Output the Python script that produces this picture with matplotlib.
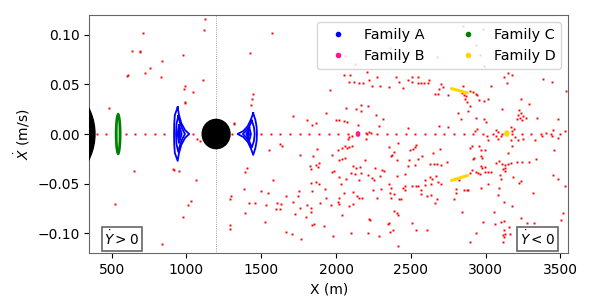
import matplotlib
matplotlib.use("Agg")
import matplotlib.pyplot as plt
from matplotlib.patches import Ellipse
from matplotlib.lines import Line2D

# ---------------- data ----------------
# red (chaotic) section points
red_x = [1126, 1119, 709, 635, 691, 687, 979, 838, 753, 720, 606, 604, 827, 1110, 992, 983, 1041, 992, 987, 479, 1319, 1315,
         1569, 1422, 1444, 1440, 1433, 2051, 2091, 2205, 2271, 2403, 2086, 2117, 2155, 2180, 2222, 2238, 2294, 2354, 2423, 2448,
         1962, 2167, 2064, 2131, 2167, 2216, 1930, 1710, 2267, 1806, 1997, 2019, 2053, 2075, 1863, 1841, 2149, 2316, 2285, 2220,
         2234, 2200,
         3147, 3178, 3125, 3381, 3441, 3140, 3035, 2509, 2549, 2478, 2545, 2567, 2589, 2612, 2505, 2623, 2705, 2712, 2687, 2661,
         2679, 2750, 2850, 2844, 2857, 2870, 2897, 2913, 2937, 2941, 2861, 2879, 2955, 2991, 3018, 2895, 2884, 3111, 3234, 3290,
         2817, 2835, 2933, 2991, 3222, 3236, 3218, 3252, 3229, 3212, 3245, 3267, 3341, 3485, 3539, 2944, 2928, 3071, 3084, 3169,
         3191, 3178, 2482, 3452, 3407, 3530, 2687, 2750, 3006,
         2850, 2933, 2962, 2672, 2991, 2126, 2060, 2360, 2345, 2980,
         649, 907, 914, 950, 1061, 524, 1028, 1008, 974, 838, 1387, 1297, 1291, 1289, 1289, 1072, 1088,
         1552, 1623, 1636, 1759, 1875, 1844, 1971, 2011, 2038, 2060, 2073, 2087, 2109, 2082, 2089, 2109, 2198, 2022, 2038, 2060,
         2194, 2354, 2388, 2365, 2376, 2410, 2414, 1402, 1391, 1826, 1835, 1864, 1884, 1879, 1971, 1984, 2111, 2131, 2160, 2100,
         2127, 2167, 2020, 2064, 2151, 2216, 2258, 2238, 2256, 2294, 2310, 2319, 2408, 1578, 1833, 1864, 1886, 1926, 1841, 2033,
         1752, 1748, 1663, 1498, 1543, 1418, 1458, 1529, 1605, 1630, 1623, 1596, 1710, 1759, 1803, 1830, 1893, 1935, 1966, 2015,
         2022, 2051, 2020, 2086, 2116, 2113, 2138, 2156, 2172, 2249, 2276, 2300, 2354, 2365, 2361, 2365, 2388, 2421, 2432, 2448,
         1391, 1725, 1797, 1835, 1525, 1837, 1850, 1919, 2040, 2220, 2227, 2385, 2408, 2412, 2345, 2354, 2379, 2361, 2214, 1663,
         1703, 1766, 1977, 2098, 2285, 2416,
         3011, 3018, 3071, 3084, 3106, 3196, 3218, 3252, 3173, 3329, 3374, 3441, 3486, 2538, 2527, 2493, 2516, 2576, 2545, 2491,
         2650, 2694, 2741, 2630, 2652, 2672, 2701, 2478, 2527, 2460, 2895, 2906, 2955, 2968, 2995, 2924, 2917, 2968, 2977, 3151,
         3178, 3073, 3089, 3111, 3129, 3151, 3173, 3118, 3133, 3209, 3244, 3289, 3334, 3456, 2968, 2977, 2995, 2933, 2946, 2962,
         2997, 3013, 3035, 2895, 2906, 2821, 3098, 3106, 3129, 3186, 3222, 3236, 3452, 3481, 3530, 3316, 2460, 2505, 2538, 2549,
         2594, 2627, 2645, 2667, 2683, 2699, 2634, 2598, 2571, 2567, 2605, 2634, 2460, 2674, 2661, 2790, 2799, 2799, 2857, 2873,
         2884, 2968, 3013, 3089, 3080, 3120, 3178, 3058, 2839, 2505, 2605, 2538, 2986, 3062, 3106, 3122, 3155, 3124, 3129, 3118,
         3122, 2939, 2895, 3115, 3236, 3274, 3325, 3503, 3521, 3474, 3164]
red_y = [0.1153, 0.1043, 0.1013, 0.0838, 0.0835, 0.0825, 0.0798, 0.0731, 0.0665, 0.0618, 0.0598, 0.0587, 0.0577, 0.0547, 0.0487, 0.0457, 0.0423, 0.0320, 0.0310, 0.0262, 0.0112, 0.0105,
         0.1019, 0.0815, 0.0403, 0.0356, 0.0293, 0.0591, 0.0597, 0.0624, 0.0577, 0.0577, 0.0527, 0.0524, 0.0514, 0.0517, 0.0541, 0.0480, 0.0484, 0.0470, 0.0527, 0.0460,
         0.0440, 0.0293, 0.0266, 0.0256, 0.0236, 0.0280, 0.0216, 0.0183, 0.0196, 0.0142, 0.0139, 0.0136, 0.0132, 0.0122, 0.0106, 0.0092, 0.0092, 0.0146, 0.0079, 0.0021,
         0.0011, 0.0015,
         0.0618, 0.0598, 0.0571, 0.0557, 0.0524, 0.0514, 0.0484, 0.0574, 0.0577, 0.0541, 0.0517, 0.0514, 0.0511, 0.0511, 0.0520, 0.0544, 0.0507, 0.0474, 0.0450, 0.0407,
         0.0400, 0.0390, 0.0487, 0.0410, 0.0397, 0.0383, 0.0434, 0.0423, 0.0407, 0.0390, 0.0350, 0.0323, 0.0340, 0.0330, 0.0350, 0.0283, 0.0229, 0.0249, 0.0350, 0.0303,
         0.0216, 0.0149, 0.0162, 0.0149, 0.0240, 0.0216, 0.0196, 0.0183, 0.0163, 0.0149, 0.0139, 0.0162, 0.0162, 0.0156, 0.0430, 0.0049, 0.0029, 0.0039, 0.0022, 0.0069,
         0.0049, 0.0032, 0.0062, 0.0039, 0.0015, 0.0029, 0.0082, 0.0072, 0.0122,
         0.1086, 0.0892, 0.0798, 0.0775, 0.0684, 0.0708, 0.0785, 0.0869, 0.0986, 0.1060,
         -0.0370, -0.0353, -0.0366, -0.0373, -0.0460, -0.0708, -0.0671, -0.0718, -0.0838, -0.1110, -0.0557, -0.0621, -0.0658, -0.0915, -0.0952, -0.0055, -0.0072,
         -0.0165, -0.0105, -0.0125, -0.0209, -0.0149, -0.0219, -0.0209, -0.0165, -0.0142, -0.0125, -0.0145, -0.0135, -0.0125, -0.0048, -0.0032, -0.0015, -0.0048, -0.0266, -0.0253, -0.0239,
         -0.0266, -0.0132, -0.0179, -0.0219, -0.0212, -0.0262, -0.0095, -0.0343, -0.0383, -0.0326, -0.0356, -0.0309, -0.0293, -0.0330, -0.0383, -0.0373, -0.0326, -0.0343, -0.0333, -0.0393,
         -0.0400, -0.0393, -0.0437, -0.0450, -0.0460, -0.0410, -0.0343, -0.0447, -0.0460, -0.0427, -0.0360, -0.0376, -0.0420, -0.0467, -0.0490, -0.0480, -0.0500, -0.0554, -0.0574, -0.0503,
         -0.0574, -0.0624, -0.0628, -0.0574, -0.0591, -0.0691, -0.0694, -0.0711, -0.0694, -0.0701, -0.0751, -0.0758, -0.0681, -0.0741, -0.0711, -0.0745, -0.0691, -0.0648, -0.0711, -0.0684,
         -0.0701, -0.0591, -0.0641, -0.0728, -0.0587, -0.0701, -0.0627, -0.0641, -0.0641, -0.0567, -0.0641, -0.0554, -0.0507, -0.0540, -0.0591, -0.0644, -0.0601, -0.0658, -0.0651, -0.0540,
         -0.0795, -0.0802, -0.0832, -0.0785, -0.0885, -0.0915, -0.0902, -0.0922, -0.0812, -0.0852, -0.0865, -0.0775, -0.0795, -0.0818, -0.0909, -0.0895, -0.0966, -0.0989, -0.0999, -0.0989,
         -0.1003, -0.1053, -0.1023, -0.0999, -0.1030, -0.1130,
         -0.0025, -0.0065, -0.0025, -0.0052, -0.0025, -0.0032, -0.0058, -0.0048, -0.0058, -0.0058, -0.0015, -0.0025, -0.0038, -0.0115, -0.0132, -0.0159, -0.0155, -0.0222, -0.0249, -0.0266,
         -0.0192, -0.0155, -0.0283, -0.0306, -0.0306, -0.0299, -0.0316, -0.0323, -0.0316, -0.0400, -0.0142, -0.0125, -0.0125, -0.0159, -0.0165, -0.0239, -0.0249, -0.0222, -0.0239, -0.0192,
         -0.0125, -0.0289, -0.0273, -0.0306, -0.0316, -0.0299, -0.0293, -0.0350, -0.0343, -0.0286, -0.0286, -0.0283, -0.0249, -0.0159, -0.0326, -0.0340, -0.0333, -0.0383, -0.0393, -0.0406,
         -0.0383, -0.0383, -0.0383, -0.0393, -0.0360, -0.0460, -0.0410, -0.0450, -0.0376, -0.0433, -0.0494, -0.0477, -0.0417, -0.0450, -0.0527, -0.0594, -0.0524, -0.0527, -0.0524, -0.0527,
         -0.0467, -0.0433, -0.0457, -0.0423, -0.0484, -0.0500, -0.0500, -0.0517, -0.0560, -0.0607, -0.0627, -0.0617, -0.0567, -0.0658, -0.0694, -0.0651, -0.0550, -0.0591, -0.0567, -0.0567,
         -0.0567, -0.0540, -0.0500, -0.0540, -0.0617, -0.0684, -0.0728, -0.0785, -0.0785, -0.0895, -0.0962, -0.0969, -0.0885, -0.0902, -0.0885, -0.0875, -0.0935, -0.0969, -0.1003, -0.1019,
         -0.1036, -0.0992, -0.1086, -0.1086, -0.0842, -0.0895, -0.0895, -0.0862, -0.0795, -0.1069, -0.1003]

# initial conditions on the X axis (Xdot = 0) that are chaotic
axis_x = [400, 465, 594, 658, 723, 788, 852, 1046, 1304, 1498, 1563, 1627, 1692, 1756, 1821, 1885, 1950,
          2015, 2079, 2144, 2208, 2273, 2338, 2402, 2467, 2531, 2596, 2660, 2725, 2790, 2854, 2919, 2983,
          3048, 3113, 3177, 3242, 3306, 3371, 3435, 3500]

# Family A (blue) islands: loops of (X, Xdot)
famA_left = [
    ([941, 950, 965, 990, 1018, 990, 965, 950, 941, 922, 918, 917, 918, 922, 941],
     [0.027, 0.019, 0.011, 0.004, 0.0, -0.004, -0.011, -0.019, -0.027, -0.019, -0.010, 0.0, 0.010, 0.019, 0.027]),
    ([945, 957, 972, 990, 972, 957, 945, 933, 930, 933, 945],
     [0.018, 0.011, 0.005, 0.0, -0.005, -0.011, -0.018, -0.010, 0.0, 0.010, 0.018]),
    ([950, 958, 968, 958, 950, 940, 950],
     [0.009, 0.005, 0.0, -0.005, -0.009, 0.0, 0.009]),
    ([952, 957, 952, 947, 952], [0.0035, 0.0, -0.0035, 0.0, 0.0035]),
]
famA_right = [
    ([1446, 1432, 1410, 1380, 1342, 1380, 1410, 1432, 1446, 1461, 1469, 1471, 1469, 1461, 1446],
     [0.021, 0.015, 0.008, 0.003, 0.0, -0.003, -0.008, -0.015, -0.021, -0.014, -0.007, 0.0, 0.007, 0.014, 0.021]),
    ([1437, 1420, 1400, 1377, 1400, 1420, 1437, 1451, 1456, 1451, 1437],
     [0.0135, 0.0075, 0.0035, 0.0, -0.0035, -0.0075, -0.0135, -0.007, 0.0, 0.007, 0.0135]),
    ([1420, 1411, 1400, 1411, 1420, 1431, 1420],
     [0.0065, 0.0033, 0.0, -0.0033, -0.0065, 0.0, 0.0065]),
    ([1414, 1409, 1414, 1419, 1414], [0.0025, 0.0, -0.0025, 0.0, 0.0025]),
]
# Family C (green) loops: centre, half-width, half-height
famC_center, famC_loops = 543, [(17, 0.0205), (9, 0.0185)]
# Family B (magenta) ring
famB_center, famB_size = (2147, 0.0), (9, 0.0019)
# Family D (gold): central dot and two arcs
famD_center, famD_size = (3142, 0.0005), (13, 0.0026)
famD_upper = ([2772, 2877], [0.0457, 0.0413])
famD_lower = ([2772, 2879], [-0.0467, -0.0417])

# bodies
body_left = (0, 0.0, 388, 0.0580)      # centre X, centre Xdot, half-width, half-height
body_mid = (1198, 0.0, 93, 0.0147)
vline_x = 1200

# ---------------- plot ----------------
fig = plt.figure(figsize=(5.98, 2.99), dpi=100)
ax = fig.add_axes([0.1493, 0.1528, 0.801, 0.798])

ax.plot(red_x, red_y, 's', color='red', ms=1.4, mew=0, zorder=2)
ax.plot(axis_x, [0.0] * len(axis_x), 's', color='red', ms=1.4, mew=0, zorder=2)

ax.axvline(vline_x, color='gray', lw=0.6, ls=':', zorder=1)

for (cx, cy, w, h) in (body_left, body_mid):
    ax.add_patch(Ellipse((cx, cy), 2 * w, 2 * h, color='black', zorder=4))

for xs, ys in famA_left + famA_right:
    ax.plot(xs, ys, '-', color='blue', lw=1.3, zorder=3)

for a, b in famC_loops:
    ax.add_patch(Ellipse((famC_center, 0.0), 2 * a, 2 * b, fill=False, ec='green', lw=1.2, zorder=3))

ax.add_patch(Ellipse(famB_center, 2 * famB_size[0], 2 * famB_size[1], fill=False, ec='#ff1493', lw=1.4, zorder=3))
ax.add_patch(Ellipse(famD_center, 2 * famD_size[0], 2 * famD_size[1], color='gold', zorder=3))
ax.plot(*famD_upper, '-', color='gold', lw=2.2, solid_capstyle='round', zorder=3)
ax.plot(*famD_lower, '-', color='gold', lw=2.2, solid_capstyle='round', zorder=3)

ax.set_xlim(350, 3553)
ax.set_ylim(-0.12, 0.12)
ax.set_xticks([500, 1000, 1500, 2000, 2500, 3000, 3500])
ax.set_yticks([-0.10, -0.05, 0.0, 0.05, 0.10])
ax.set_yticklabels(['−0.10', '−0.05', '0.00', '0.05', '0.10'])
ax.tick_params(labelsize=10)
ax.set_xlabel('X (m)', fontsize=10)
ax.set_ylabel(r'$\dot{X}$ (m/s)', fontsize=10)

for s in ax.spines.values():
    s.set_color('#666666')

handles = [Line2D([], [], marker='o', ls='', color=c, ms=3) for c in ('blue', '#ff1493', 'green', 'gold')]
ax.legend(handles, ['Family A', 'Family B', 'Family C', 'Family D'], ncol=2, loc='upper right',
          fontsize=10.4, framealpha=0.8, borderaxespad=0.5)

box = dict(boxstyle='square,pad=0.2', fc='white', ec='#666666', lw=1.2)
ax.text(0.0315, 0.022, r'$\dot{Y} > 0$', transform=ax.transAxes, fontsize=9.8, ha='left', va='bottom', bbox=box, zorder=6)
ax.text(0.972, 0.022, r'$\dot{Y} < 0$', transform=ax.transAxes, fontsize=9.8, ha='right', va='bottom', bbox=box, zorder=6)

fig.savefig('out.png', dpi=100)
